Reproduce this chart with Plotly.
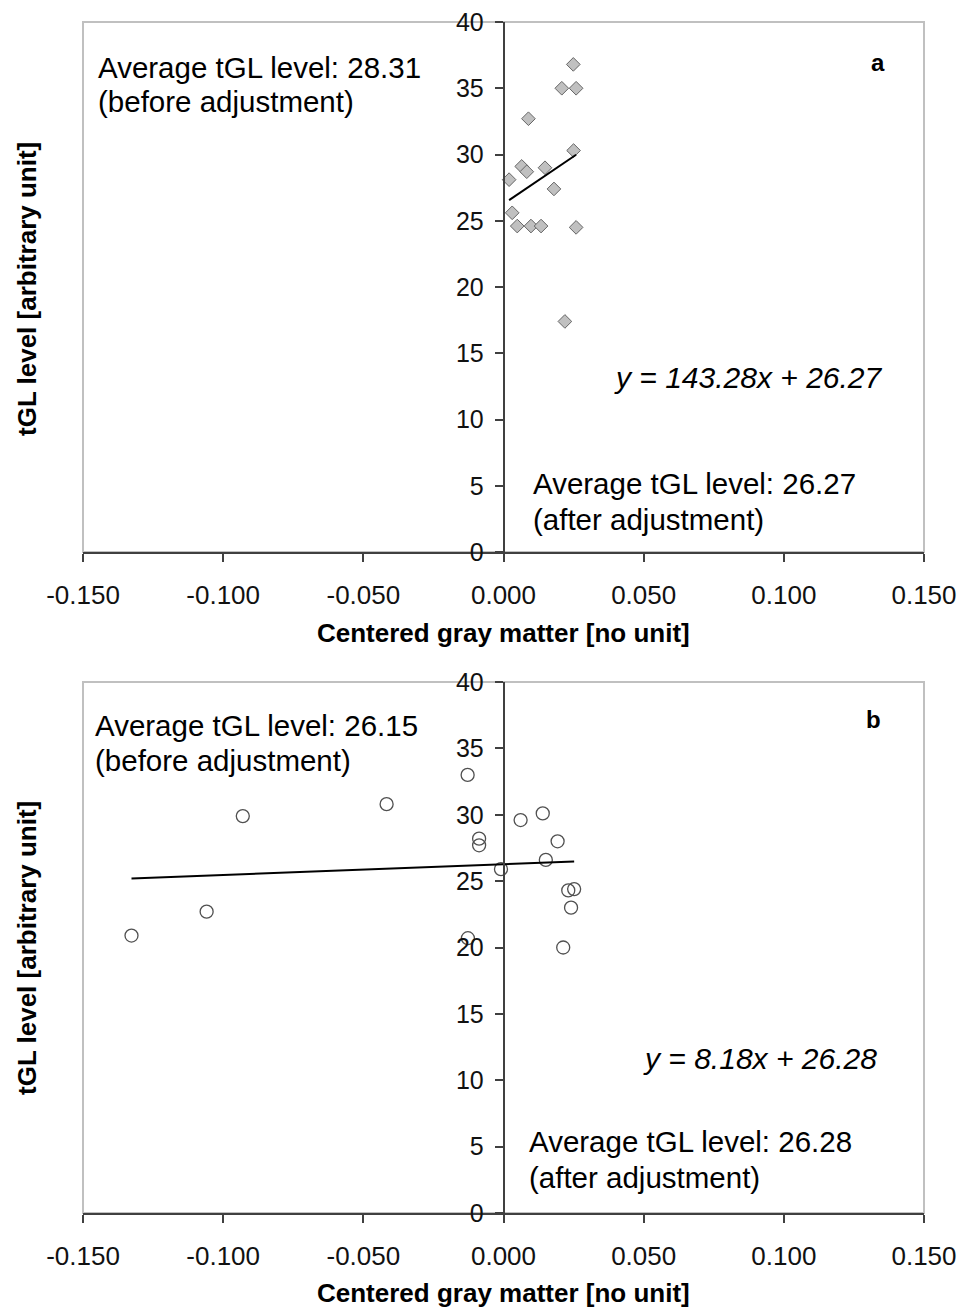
import plotly.graph_objects as go

W, H = 959, 1308

# Panel a: subjects before adjustment (gray matter vs tGL)
gm_a = [0.0249, 0.0208, 0.0259, 0.0089, 0.0250, 0.0065, 0.0083, 0.0148,
        0.0020, 0.0180, 0.0031, 0.0049, 0.0098, 0.0134, 0.0259, 0.0219]
tgl_a = [36.8, 35.0, 35.0, 32.7, 30.3, 29.1, 28.7, 29.0,
         28.1, 27.4, 25.6, 24.6, 24.6, 24.6, 24.5, 17.4]
slope_a, icpt_a = 143.28, 26.27

# Panel b
gm_b = [-0.1327, -0.1059, -0.0930, -0.0417, -0.0128, -0.0087, -0.0087, -0.0127,
        -0.0009, 0.0061, 0.0140, 0.0193, 0.0151, 0.0231, 0.0252, 0.0241, 0.0213]
tgl_b = [20.9, 22.7, 29.9, 30.8, 33.0, 28.2, 27.7, 20.7,
         25.9, 29.6, 30.1, 28.0, 26.6, 24.3, 24.4, 23.0, 20.0]
slope_b, icpt_b = 8.18, 26.28

x_ticks = [-0.15, -0.10, -0.05, 0.0, 0.05, 0.10, 0.15]
x_tick_text = ["-0.150", "-0.100", "-0.050", "0.000", "0.050", "0.100", "0.150"]
y_ticks = [0, 5, 10, 15, 20, 25, 30, 35, 40]

FONT = "Arial, Liberation Sans, sans-serif"
AXIS_COL = "#404040"
BORDER_COL = "#c0c0c0"


def px(xp):
    return xp / W


def py(yp):
    return 1 - yp / H


# plot-area geometry (pixels)
LEFT, RIGHT = 83, 924
PANELS = [(22, 552), (682, 1213)]
X0_PX = 503.5  # horizontal position of x = 0

fig = go.Figure()

# scatter + fitted line for each panel
fig.add_trace(go.Scatter(
    x=gm_a, y=tgl_a, mode="markers", xaxis="x", yaxis="y",
    marker=dict(symbol="diamond", size=10.5, color="#c0c0c0",
                line=dict(color="#666666", width=1)),
    showlegend=False))
xa = [min(gm_a), max(gm_a)]
fig.add_trace(go.Scatter(
    x=xa, y=[slope_a * v + icpt_a for v in xa], mode="lines",
    xaxis="x", yaxis="y", line=dict(color="black", width=2), showlegend=False))

fig.add_trace(go.Scatter(
    x=gm_b, y=tgl_b, mode="markers", xaxis="x2", yaxis="y2",
    marker=dict(symbol="circle-open", size=13, color="#505050",
                line=dict(color="#505050", width=1.3)),
    showlegend=False))
xb = [min(gm_b), max(gm_b)]
fig.add_trace(go.Scatter(
    x=xb, y=[slope_b * v + icpt_b for v in xb], mode="lines",
    xaxis="x2", yaxis="y2", line=dict(color="black", width=2), showlegend=False))


def xaxis_cfg(top, bottom, anchor):
    return dict(
        domain=[px(LEFT), px(RIGHT)], anchor=anchor, range=[-0.15, 0.15],
        tickvals=x_ticks, ticktext=x_tick_text, ticks="outside", ticklen=8,
        tickwidth=1.5, tickcolor=AXIS_COL, showline=True, linecolor=AXIS_COL,
        linewidth=1.5, showgrid=False, zeroline=False, automargin=False,
        tickfont=dict(family=FONT, size=26, color="#111111"),
        ticklabelstandoff=11)


def yaxis_cfg(top, bottom):
    return dict(
        domain=[py(bottom), py(top)], anchor="free", position=px(X0_PX),
        range=[0, 40], tickvals=y_ticks, ticks="outside", ticklen=8,
        tickwidth=1.5, tickcolor=AXIS_COL, showline=True, linecolor=AXIS_COL,
        linewidth=1.5, showgrid=False, zeroline=False, automargin=False,
        tickfont=dict(family=FONT, size=25, color="#111111"),
        ticklabelstandoff=6)


fig.update_layout(
    width=W, height=H, margin=dict(l=0, r=0, t=0, b=0, autoexpand=False),
    paper_bgcolor="white", plot_bgcolor="white",
    xaxis=xaxis_cfg(*PANELS[0], "y"),
    yaxis=yaxis_cfg(*PANELS[0]),
    xaxis2=xaxis_cfg(*PANELS[1], "y2"),
    yaxis2=yaxis_cfg(*PANELS[1]),
)

# light gray frame around each plot area
for top, bottom in PANELS:
    fig.add_shape(type="rect", xref="paper", yref="paper",
                  x0=px(LEFT), x1=px(RIGHT), y0=py(bottom), y1=py(top),
                  line=dict(color=BORDER_COL, width=2), layer="below")


def label(text, x, y, size=29.5, xanchor="left", bold=False, italic=False,
          angle=0):
    t = text
    if bold:
        t = "<b>" + t + "</b>"
    if italic:
        t = "<i>" + t + "</i>"
    fig.add_annotation(text=t, x=px(x), y=py(y), xref="paper", yref="paper",
                       xanchor=xanchor, yanchor="middle", showarrow=False,
                       textangle=angle,
                       font=dict(family=FONT, size=size, color="black"))


# panel a texts
label("Average tGL level: 28.31", 96, 67)
label("(before adjustment)", 96, 101)
label("a", 878, 63, size=24, xanchor="center", bold=True)
label("y = 143.28x + 26.27", 885, 378, size=30, xanchor="right", italic=True)
label("Average tGL level: 26.27", 531, 484)
label("(after adjustment)", 531, 519)
label("Centered gray matter [no unit]", 503, 633, size=26, xanchor="center", bold=True)
label("tGL level [arbitrary unit]", 27, 289, size=26, xanchor="center", bold=True, angle=-90)

# panel b texts
label("Average tGL level: 26.15", 93, 725)
label("(before adjustment)", 93, 760)
label("b", 873, 719, size=24, xanchor="center", bold=True)
label("y = 8.18x + 26.28", 879, 1058, size=30, xanchor="right", italic=True)
label("Average tGL level: 26.28", 527, 1141)
label("(after adjustment)", 527, 1177)
label("Centered gray matter [no unit]", 503, 1293, size=26, xanchor="center", bold=True)
label("tGL level [arbitrary unit]", 27, 948, size=26, xanchor="center", bold=True, angle=-90)

fig.write_html("out.html")
